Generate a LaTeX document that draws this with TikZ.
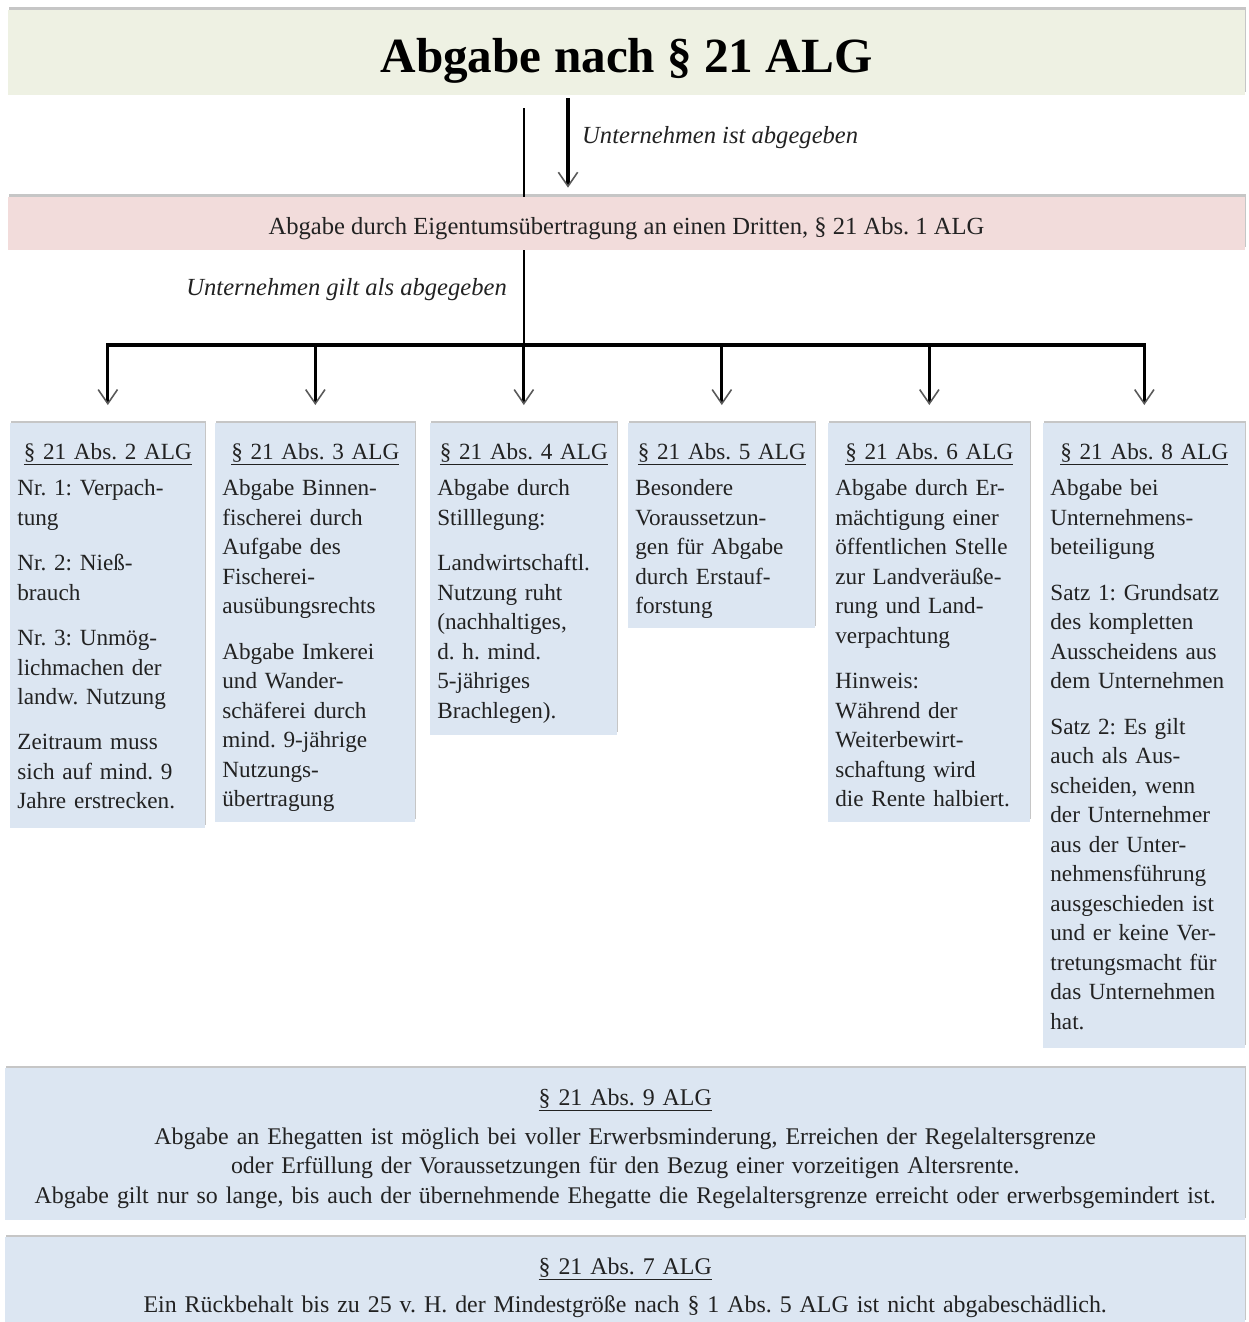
\documentclass[tikz,border=0pt]{standalone}
\usepackage{fontspec}
\setmainfont{Liberation Serif}
\usetikzlibrary{arrows.meta,shadows}
\definecolor{titlefill}{HTML}{EEF1E3}
\definecolor{pinkfill}{HTML}{F2DCDB}
\definecolor{boxfill}{HTML}{DCE6F2}
\definecolor{ink}{HTML}{222222}
\frenchspacing
\newcommand{\abshead}[1]{\makebox[\linewidth]{\underline{#1}}\\[4pt]}
\begin{document}
\begin{tikzpicture}[x=0.02cm,y=-0.02cm]
	\tikzstyle{boxshadow}=[drop shadow={shadow xshift=0.6pt,shadow yshift=1.6pt,opacity=0.45}]
	\tikzstyle{titlebox}=[boxshadow,fill=titlefill,minimum width=24.74cm,minimum height=1.7cm,text height=25pt,text depth=2.8pt,font=\fontsize{28}{32}\bfseries\selectfont]
	\tikzstyle{pinkbox}=[boxshadow,fill=pinkfill,minimum width=24.74cm,minimum height=1.06cm,text height=14pt,text depth=2pt,text=ink,font=\fontsize{14}{16}\selectfont]
	\tikzstyle{rulebox}=[boxshadow,fill=boxfill,anchor=north west,inner xsep=0.14cm,inner ysep=0pt,align=left,text height=0.72cm,text=ink,font=\fontsize{13.2}{16.8}\selectfont]
	\tikzstyle{widebox}=[boxshadow,fill=boxfill,anchor=north west,inner xsep=0.14cm,inner ysep=0pt,align=center,text width=24.52cm,text height=0.74cm,text=ink,font=\fontsize{13.6}{16.8}\selectfont]
	\tikzstyle{labeltext}=[text=ink,font=\fontsize{14}{16}\itshape\selectfont]
	\tikzstyle{trunk}=[line width=1.5pt]
	\tikzstyle{drop}=[line width=1.7pt,-{Straight Barb[length=8pt,width=11pt,line width=0.9pt,color=gray!70!black]},shorten >=0.36cm]
	\useasboundingbox (0,0) rectangle (1248,1322);

	\node[titlebox] (title) at (626.5,52.5) {Abgabe nach § 21 ALG};
	\node[pinkbox] (transfer) at (626.5,223.5) {Abgabe durch Eigentumsübertragung an einen Dritten, § 21 Abs. 1 ALG};

	\node[rulebox,text width=3.62cm,text depth=7.38cm] (abs2) at (10,423) {\abshead{§ 21 Abs. 2 ALG}Nr. 1: Verpach-\\tung\\[9pt]Nr. 2: Nieß-\\brauch\\[9pt]Nr. 3: Unmög-\\lichmachen der\\landw. Nutzung\\[9pt]Zeitraum muss\\sich auf mind. 9\\Jahre erstrecken.};
	\node[rulebox,text width=3.72cm,text depth=7.26cm] (abs3) at (215,423) {\abshead{§ 21 Abs. 3 ALG}Abgabe Binnen-\\fischerei durch\\Aufgabe des\\Fischerei-\\ausübungsrechts\\[9pt]Abgabe Imkerei\\und Wander-\\schäferei durch\\mind. 9-jährige\\Nutzungs-\\übertragung};
	\node[rulebox,text width=3.46cm,text depth=5.52cm] (abs4) at (430,423) {\abshead{§ 21 Abs. 4 ALG}Abgabe durch\\Stilllegung:\\[9pt]Landwirtschaftl.\\Nutzung ruht\\(nachhaltiges,\\d. h. mind.\\5-jähriges\\Brachlegen).};
	\node[rulebox,text width=3.46cm,text depth=3.38cm] (abs5) at (628,423) {\abshead{§ 21 Abs. 5 ALG}Besondere\\Voraussetzun-\\gen für Abgabe\\durch Erstauf-\\forstung};
	\node[rulebox,text width=3.76cm,text depth=7.26cm] (abs6) at (828,423) {\abshead{§ 21 Abs. 6 ALG}Abgabe durch Er-\\mächtigung einer\\öffentlichen Stelle\\zur Landveräuße-\\rung und Land-\\verpachtung\\[9pt]Hinweis:\\Während der\\Weiterbewirt-\\schaftung wird\\die Rente halbiert.};
	\node[rulebox,text width=3.76cm,text depth=11.78cm] (abs8) at (1043,423) {\abshead{§ 21 Abs. 8 ALG}Abgabe bei\\Unternehmens-\\beteiligung\\[9pt]Satz 1: Grundsatz\\des kompletten\\Ausscheidens aus\\dem Unternehmen\\[9pt]Satz 2: Es gilt\\auch als Aus-\\scheiden, wenn\\der Unternehmer\\aus der Unter-\\nehmensführung\\ausgeschieden ist\\und er keine Ver-\\tretungsmacht für\\das Unternehmen\\hat.};

	\node[widebox,text depth=2.3cm] (abs9) at (5,1068) {\underline{§ 21 Abs. 9 ALG}\\[5.4pt]Abgabe an Ehegatten ist möglich bei voller Erwerbsminderung, Erreichen der Regelaltersgrenze\\oder Erfüllung der Voraussetzungen für den Bezug einer vorzeitigen Altersrente.\\Abgabe gilt nur so lange, bis auch der übernehmende Ehegatte die Regelaltersgrenze erreicht oder erwerbsgemindert ist.};
	\node[widebox,text depth=0.96cm] (abs7) at (5,1237) {\underline{§ 21 Abs. 7 ALG}\\[5pt]Ein Rückbehalt bis zu 25 v. H. der Mindestgröße nach § 1 Abs. 5 ALG ist nicht abgabeschädlich.};

	\node[labeltext,anchor=west] (given) at (576,138) {Unternehmen ist abgegeben};
	\node[labeltext,anchor=east] (deemed) at (513,290) {Unternehmen gilt als abgegeben};

	\coordinate (handover) at (568,0);
	\coordinate (bar) at (0,345);

	\draw[trunk,shorten <=0.26cm] (title.south -| abs4.north) -- (transfer.north -| abs4.north);
	\draw[drop,line width=2pt,shorten <=0.06cm,shorten >=0.18cm] (handover |- title.south) -- (handover |- transfer.north);
	\draw[trunk] (transfer.south -| abs4.north) -- (abs4.north |- bar);
	\draw[line width=2.4pt,line cap=rect] (abs2.north |- bar) -- (abs8.north |- bar);
	\foreach \b in {abs2,abs3,abs4,abs5,abs6,abs8}
		\draw[drop] (\b.north |- bar) -- (\b.north);
\end{tikzpicture}
\end{document}
